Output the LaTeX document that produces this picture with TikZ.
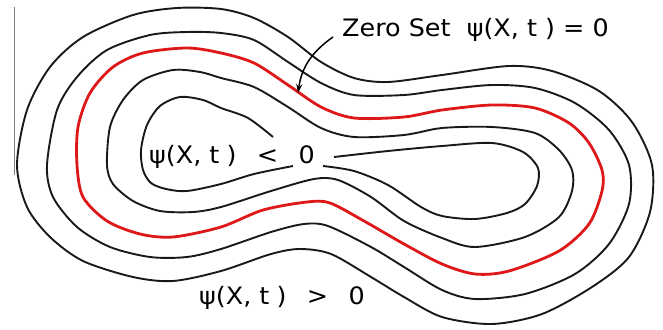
\documentclass[tikz,border=0pt]{standalone}
\usepackage{fontspec}
\setmainfont{DejaVu Sans}[FakeStretch=1.06]
\usetikzlibrary{arrows.meta}
\definecolor{zerored}{RGB}{222,24,24}

\begin{document}
\begin{tikzpicture}[x=1pt, y=-1pt,
  contour/.style={line width=1.9pt, black!90, line join=round},
  zeroset/.style={line width=2.8pt, zerored},
  lbl/.style={font=\fontsize{24}{28}\selectfont, inner sep=0pt, anchor=base west},
  pointer/.style={line width=1.5pt, -{Stealth[length=9pt,width=6pt]}}]
  \useasboundingbox (0,0) rectangle (663,329);

  % thin rule at the left edge
  \draw[gray, line width=1pt] (14,7) -- (14,175);

  % outer level sets (psi > 0)
  \draw[contour] plot[smooth cycle] coordinates {
    (17,165) (27,110) (50,67) (83,37) (133,15) (177,8) (221,9) (254,18)
    (288,37) (321,62) (354,78) (388,82) (442,75) (509,66) (552,71) (599,91)
    (632,122) (652,165) (650,212) (629,257) (592,287) (542,314) (492,324)
    (442,317) (404,297) (371,277) (331,254) (300,249) (271,254) (221,271)
    (173,281) (133,277) (83,261) (50,237) (27,207)};
  \draw[contour] plot[smooth cycle] coordinates {
    (47,165) (57,110) (77,77) (107,50) (150,35) (187,32) (221,33) (254,40)
    (288,62) (321,83) (354,95) (404,95) (442,90) (492,85) (535,88) (575,103)
    (609,130) (629,165) (629,204) (609,244) (575,274) (525,294) (475,299)
    (442,290) (404,267) (371,247) (328,226) (304,224) (271,232) (221,249)
    (187,257) (150,257) (110,247) (77,227) (53,197)};

  % zero level set
  \draw[zeroset] plot[smooth cycle] coordinates {
    (77,165) (78,127) (90,93) (113,67) (143,53) (187,48) (221,53) (254,63)
    (288,85) (321,107) (354,118) (404,117) (442,110) (492,105) (535,108)
    (569,123) (589,143) (602,170) (602,191) (589,224) (559,251) (509,271)
    (475,274) (442,264) (404,244) (364,221) (330,203) (307,202) (263,210)
    (221,227) (173,237) (140,234) (107,221) (83,197)};

  % inner level sets (psi < 0)
  \draw[contour] plot[smooth cycle] coordinates {
    (107,165) (110,127) (123,100) (143,80) (173,70) (200,72) (221,78)
    (254,87) (288,107) (321,128) (354,137) (404,135) (442,128) (492,127)
    (535,133) (559,150) (572,170) (572,191) (559,217) (525,237) (475,247)
    (442,238) (404,221) (371,197) (338,180) (314,179) (271,191) (221,207)
    (193,212) (160,211) (133,201) (113,184)};
  \draw[contour] plot[smooth] coordinates {
    (273,137) (248,118) (221,108) (203,100) (180,97) (160,106) (147,125)
    (141,150) (143,170) (151,183) (166,189) (187,191) (221,184) (254,174)
    (293,166)};
  \draw[contour] plot[smooth] coordinates {
    (334,157) (388,151) (442,146) (492,143) (523,152) (538,168) (537,186)
    (525,204) (507,213) (475,219) (442,216) (421,207) (388,185) (354,171)
    (323,166)};

  % labels
  \node[lbl] (zero) at (342,37) {Zero Set~~ψ(X, t ) = 0};
  \node[lbl] (neg) at (149,163) {ψ(X, t\hspace{.3em})\hspace{.85em}<\hspace{.85em}0};
  \node[lbl] (pos) at (199,304) {ψ(X, t\hspace{.3em})\hspace{.85em}>\hspace{.85em}0};

  \coordinate (tip) at (298,93);
  \draw[pointer] ([xshift=-9pt]zero.base west) to[out=215, in=82] (tip);
\end{tikzpicture}
\end{document}
